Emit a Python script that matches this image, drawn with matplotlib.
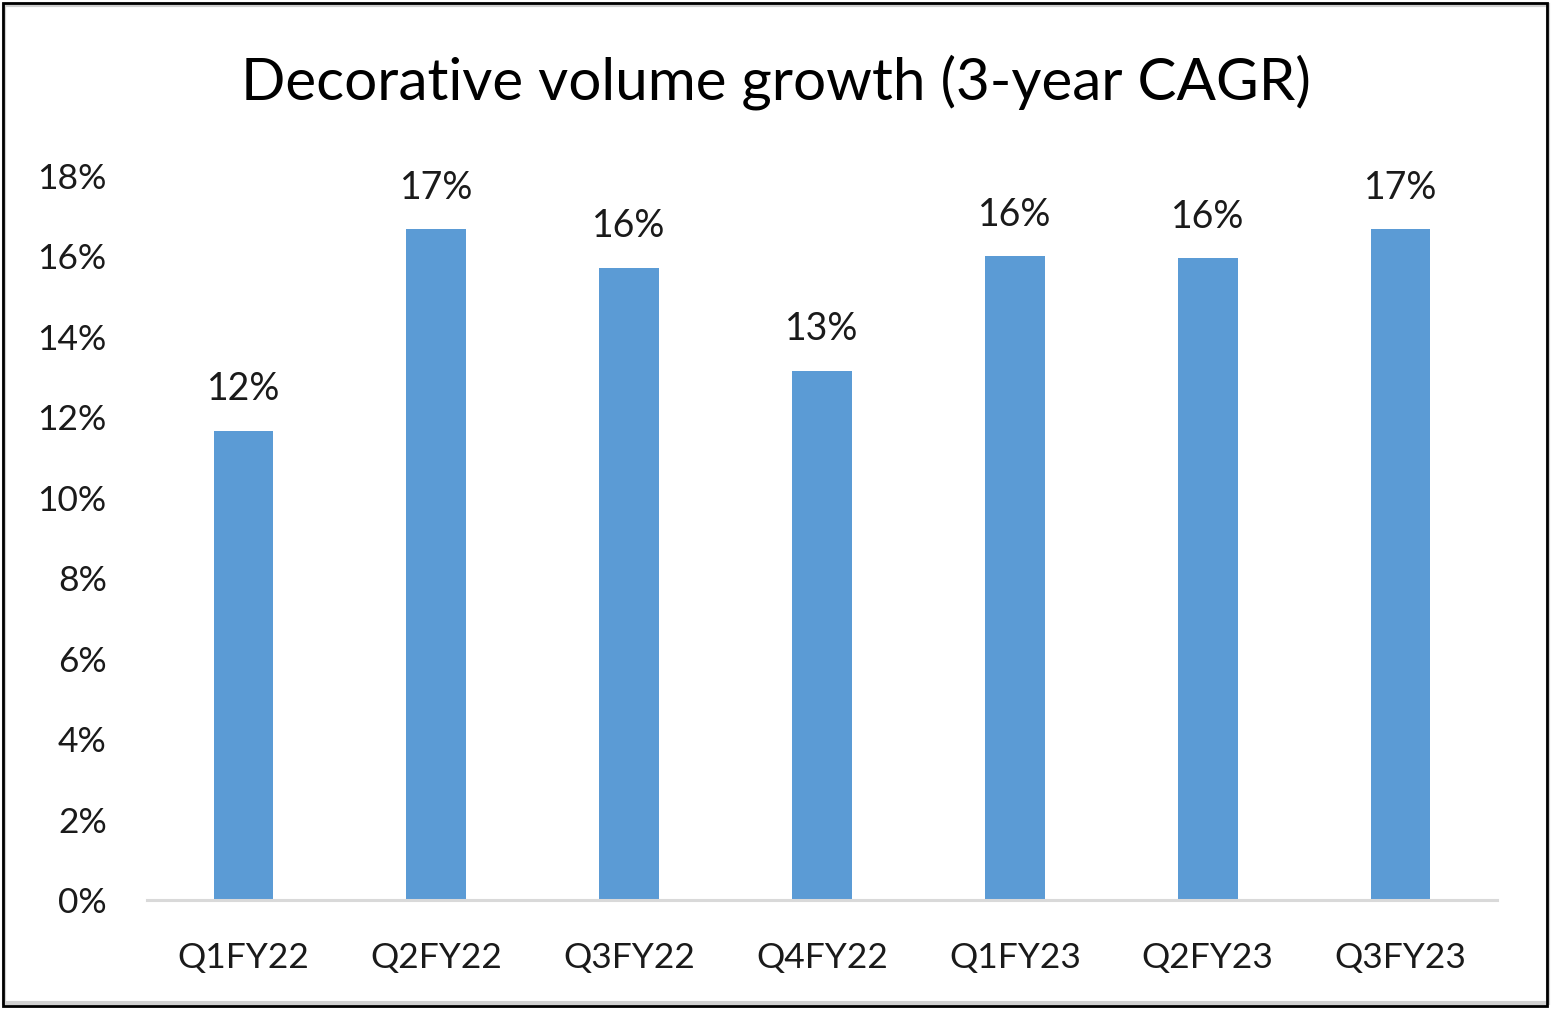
import matplotlib.pyplot as plt
from matplotlib.patches import Rectangle
from matplotlib.ticker import FuncFormatter

quarters = ["Q1FY22", "Q2FY22", "Q3FY22", "Q4FY22", "Q1FY23", "Q2FY23", "Q3FY23"]
cagr = [11.67, 16.67, 15.72, 13.16, 16.0, 15.95, 16.67]
y_ticks = [0, 2, 4, 6, 8, 10, 12, 14, 16, 18]

plt.rcParams["font.family"] = ["Lato", "DejaVu Sans"]
text_color = "#1a1a1a"

fig = plt.figure(figsize=(15.52, 10.11), dpi=100)
ax = fig.add_axes([147 / 1552, 1 - 900 / 1011, 1350 / 1552, 724 / 1011])

x = range(len(quarters))
bars = ax.bar(x, cagr, width=0.31, color="#5B9BD5", zorder=2)
for rect, v in zip(bars, cagr):
    ax.annotate(f"{v:.0f}%", (rect.get_x() + rect.get_width() / 2, v),
                xytext=(0, 17), textcoords="offset points",
                ha="center", va="bottom", fontsize=27, color=text_color)

ax.set_xlim(-0.5, len(quarters) - 0.5)
ax.set_ylim(0, 18)
ax.set_yticks(y_ticks)
ax.yaxis.set_major_formatter(FuncFormatter(lambda v, _: f"{v:.0f}%"))
ax.set_xticks(list(x))
ax.set_xticklabels(quarters)
ax.tick_params(axis="both", length=0, labelsize=25.5, labelcolor=text_color)
ax.tick_params(axis="y", pad=29)
ax.tick_params(axis="x", pad=30)
for side in ["top", "right", "left"]:
    ax.spines[side].set_visible(False)
ax.spines["bottom"].set_color("#D9D9D9")
ax.spines["bottom"].set_linewidth(2.2)

fig.text(0.5, 1 - 82 / 1011, "Decorative volume growth (3-year CAGR)",
         ha="center", va="center", fontsize=42, color="#000000")

# outer frame
fig.patches.append(Rectangle((4 / 1552, 8 / 1011), 1544 / 1552, 998 / 1011,
                             transform=fig.transFigure, fill=False,
                             edgecolor="#D0D0D0", linewidth=3))
fig.patches.append(Rectangle((3 / 1552, 5 / 1011), 1544 / 1552, 1003 / 1011,
                             transform=fig.transFigure, fill=False,
                             edgecolor="#000000", linewidth=2))

fig.savefig("out.png", dpi=100)
